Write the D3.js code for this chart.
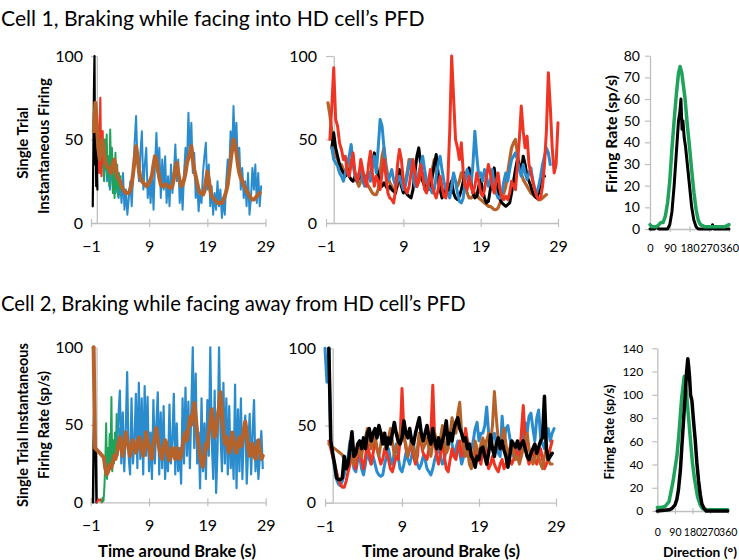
<!DOCTYPE html>
<html><head><meta charset="utf-8">
<script src="https://cdn.jsdelivr.net/npm/d3@7"></script>
<style>body{margin:0;background:#fff}svg{display:block}</style>
</head><body>
<script>
// ---------------- DATA ----------------
const titles = ["Cell 1, Braking while facing into HD cell\u2019s PFD", "Cell 2, Braking while facing away from HD cell\u2019s PFD"];
const timeTicks = [-1, 9, 19, 29];
const rateTicks = [0, 50, 100];
const dirTicks = [0, 90, 180, 270, 360];
const dirRateTicks1 = [0, 10, 20, 30, 40, 50, 60, 70, 80];
const dirRateTicks2 = [0, 20, 40, 60, 80, 100, 120, 140];

// time series: values sampled every `step` seconds from `start`
const c1Black = {start: -0.7, step: 0.1, v: [10, 40, 78, 100, 35, 58, 22, 40, 20]};
const c1Red = {start: 0.1, step: 0.1, v: [45, 35, 55, 30, 50, 75, 45, 28, 40, 55, 38]};
const c1Green = {start: 0.5, step: 0.15, v: [45, 30, 48, 35, 42, 25, 50, 32, 53, 28, 40, 22, 56, 30, 45, 18, 38, 15, 42, 20, 35, 16, 30, 22, 28]};
const c1Blue = {start: 1.0, step: 0.25, v: [40, 30, 45, 25, 35, 20, 38, 22, 30, 18, 28, 15, 25,
  12, 30, 8, 20, 5, 15, 25, 10,
  30, 48, 64, 35, 25, 42, 55, 20, 35, 45, 15, 25, 12, 30, 8, 35, 54, 30, 45, 15, 38, 20, 40, 12, 28, 10, 35, 18, 30, 47, 25, 38, 12, 25, 8, 30, 45, 35, 66, 40, 60, 30, 42, 15, 25, 7, 18, 12, 30, 40, 48, 20, 35, 10, 22, 5, 18, 8, 25, 10, 20, 3, 15, 5, 25, 38, 30, 55, 40, 70, 45, 60, 35, 45, 20, 33, 15, 25, 10, 30, 5, 15, 33, 20, 35, 12, 30, 10, 22]};
const c1Brown = {start: -0.5, step: 0.25, v: [55, 72, 60, 45, 38, 48, 50, 42, 36, 34, 33, 31, 30, 36, 38, 33, 28, 26, 25, 22, 20, 19, 18, 18, 18, 20, 23, 30, 38, 46, 40, 32, 27, 25, 24, 23, 22, 23, 24, 26, 29, 35, 40, 38, 32, 27, 23, 22, 22, 23, 23, 22, 21, 21, 22, 27, 33, 36, 30, 25, 22, 23, 26, 30, 36, 39, 42, 46, 38, 32, 28, 24, 20, 18, 18, 17, 19, 25, 31, 26, 20, 16, 15, 14, 13, 12, 12, 12, 12, 14, 16, 19, 23, 30, 37, 44, 50, 47, 42, 35, 30, 27, 25, 23, 21, 19, 18, 16, 15, 14, 14, 15, 16, 17, 18]};

const c1bRed = {start: -0.5, step: 0.25, v: [50, 70, 93, 62, 58, 48, 44, 38, 40, 30, 28, 35, 42, 30, 25, 28, 38, 32, 25, 22, 35, 43, 30, 22, 28, 25, 20, 30, 38, 28, 18, 15, 14, 12, 20, 35, 44, 38, 25, 20, 18, 22, 30, 38, 30, 22, 25, 35, 28, 20, 18, 25, 32, 22, 18, 15, 20, 28, 22, 16, 15, 25, 55, 100, 75, 50, 45, 38, 48, 30, 22, 20, 28, 22, 18, 22, 30, 25, 18, 16, 20, 28, 35, 30, 22, 18, 25, 30, 20, 15, 14, 16, 14, 18, 25, 22, 20, 35, 50, 70, 55, 45, 52, 35, 30, 25, 20, 16, 14, 15, 22, 35, 55, 90, 70, 45, 30, 35, 60]};
const c1bBlack = {start: -0.25, step: 0.25, v: [45, 54, 45, 40, 35, 32, 30, 28, 32, 28, 26, 25, 28, 25, 27, 30, 28, 26, 28, 30, 27, 35, 42, 35, 28, 25, 22, 24, 22, 20, 22, 20, 19, 18, 25, 32, 22, 18, 20, 17, 16, 15, 20, 30, 40, 45, 35, 25, 22, 20, 22, 20, 28, 35, 41, 30, 20, 15, 18, 20, 18, 22, 25, 18, 15, 14, 16, 20, 25, 30, 28, 33, 25, 18, 15, 16, 22, 26, 20, 15, 12, 13, 20, 28, 33, 25, 18, 14, 12, 11, 10, 11, 12, 18, 25, 32, 38, 35, 30, 40, 35, 28, 25, 22, 18, 16, 15, 18, 25, 30, 28]};
const c1bBrown = {start: -0.75, step: 0.25, v: [72, 65, 55, 45, 40, 38, 35, 35, 32, 30, 30, 32, 38, 36, 30, 25, 22, 25, 30, 28, 24, 22, 20, 18, 17, 17, 20, 30, 40, 45, 35, 28, 24, 22, 20, 20, 22, 25, 24, 22, 25, 30, 38, 35, 28, 24, 22, 25, 28, 30, 26, 22, 20, 24, 32, 38, 30, 24, 20, 19, 18, 18, 20, 22, 25, 28, 25, 22, 25, 30, 27, 22, 18, 15, 15, 16, 18, 17, 15, 14, 13, 12, 11, 10, 10, 9, 8, 8, 9, 12, 15, 18, 22, 30, 38, 45, 48, 50, 42, 35, 30, 26, 24, 22, 20, 18, 17, 16, 15, 14, 14, 15, 16, 17]};
const c1bBlue = {start: -0.25, step: 0.25, v: [45, 38, 36, 34, 30, 28, 25, 30, 35, 40, 47, 35, 28, 25, 30, 32, 25, 22, 28, 30, 25, 35, 40, 30, 45, 62, 58, 45, 30, 25, 28, 32, 26, 22, 25, 28, 24, 20, 22, 28, 35, 38, 30, 22, 25, 30, 35, 40, 32, 25, 22, 20, 18, 20, 28, 35, 40, 32, 25, 20, 18, 15, 22, 30, 25, 18, 13, 12, 15, 25, 32, 28, 22, 35, 55, 40, 28, 30, 25, 32, 28, 22, 25, 32, 22, 18, 15, 15, 18, 25, 30, 25, 32, 38, 40, 42, 38, 32, 28, 35, 30, 26, 30, 33, 25, 20, 18, 22, 28, 35, 40, 45, 42, 35]};

const d1Deg = [0, 10, 20, 30, 40, 50, 60, 70, 80, 90, 100, 110, 120, 130, 137, 145, 150, 160, 170, 180, 190, 200, 210, 220, 230, 250, 300, 340, 360];
const d1Green = [2, 1, 1, 1, 2, 3, 3, 6, 12, 22, 37, 50, 62, 72, 75, 72, 68, 60, 48, 38, 27, 17, 9, 4, 2, 1, 1, 1, 2];
const d1bDeg = [0, 20, 30, 40, 60, 80, 90, 100, 110, 120, 130, 136, 141, 146, 150, 156, 162, 170, 180, 190, 200, 210, 220, 280, 285, 290, 300, 360];
const d1Black = [0, 0, 1, 0, 0, 0, 2, 8, 20, 35, 50, 54, 60, 46, 50, 42, 38, 30, 20, 10, 4, 1, 0, 0, 2, 0, 0, 0];

const c2Black = {start: -0.6, step: 0.1, v: [0, 35, 58, 28, 36, 30, 0]};
const c2Red = {start: 0.1, step: 0.2, v: [0, 2, 1, 2, 0, 1]};
const c2Green = {start: 0.9, step: 0.15, v: [0, 3, 1, 10, 25, 51, 15, 35, 20, 44, 25, 68, 20, 40, 25, 45, 30, 57, 30, 42, 35, 48]};
const c2Blue = {start: 3.5, step: 0.25, v: [30, 55, 72, 25, 58, 20, 45, 84, 30, 18, 67, 25, 40, 70, 22, 77, 28, 67, 18, 75, 30, 68, 20, 45, 15, 66, 25, 50, 71, 18, 58, 22, 62, 15, 35, 20, 63, 25, 40, 70, 18, 51, 20, 35, 12, 67, 25, 74, 30, 65, 22, 60, 100, 35, 83, 25, 45, 9, 67, 20, 51, 15, 66, 30, 100, 40, 15, 72, 6, 35, 100, 45, 20, 77, 25, 67, 18, 62, 22, 40, 15, 76, 9, 60, 20, 67, 15, 45, 56, 12, 35, 57, 18, 45, 66, 20, 40, 15, 30, 46, 22]};
const c2Brown = {start: -0.5, step: 0.25, v: [100, 35, 34, 33, 32, 31, 30, 29, 22, 18, 20, 24, 22, 26, 30, 28, 32, 38, 42, 35, 30, 38, 45, 40, 35, 30, 35, 40, 38, 32, 35, 42, 40, 35, 30, 36, 45, 40, 35, 30, 28, 38, 42, 48, 40, 35, 30, 28, 35, 40, 38, 30, 27, 32, 35, 30, 28, 35, 32, 28, 30, 36, 42, 45, 40, 48, 55, 50, 58, 64, 55, 45, 38, 30, 25, 23, 30, 38, 35, 45, 52, 60, 50, 42, 45, 55, 62, 71, 58, 45, 38, 42, 35, 32, 38, 45, 40, 34, 32, 38, 42, 36, 40, 47, 52, 45, 35, 30, 33, 38, 30, 28, 35, 40, 33, 28, 30]};

const c2bBlue = {start: -1.0, step: 0.25, v: [100, 78, 100, 38, 30, 22, 15, 12, 11, 14, 18, 25, 30, 40, 35, 22, 20, 28, 30, 22, 18, 25, 35, 28, 25, 30, 25, 20, 18, 17, 18, 25, 30, 35, 28, 25, 32, 38, 30, 22, 20, 25, 32, 28, 25, 30, 38, 30, 25, 22, 25, 30, 28, 22, 20, 18, 22, 28, 32, 35, 30, 25, 28, 35, 40, 45, 38, 30, 35, 40, 32, 25, 30, 45, 38, 30, 35, 40, 48, 52, 40, 45, 45, 50, 62, 45, 35, 42, 45, 38, 32, 30, 56, 40, 48, 50, 42, 35, 30, 38, 35, 30, 35, 45, 52, 45, 56, 58, 48, 40, 55, 60, 42, 38, 35, 45, 48, 40, 45, 48]};
const c2bRed = {start: -0.5, step: 0.25, v: [40, 35, 30, 25, 20, 15, 12, 10, 10, 14, 20, 25, 30, 25, 22, 30, 35, 28, 22, 30, 38, 32, 25, 32, 40, 35, 30, 25, 28, 35, 32, 28, 22, 20, 25, 30, 28, 40, 74, 45, 35, 30, 35, 40, 30, 25, 30, 45, 38, 32, 30, 28, 35, 45, 76, 40, 30, 25, 32, 40, 30, 22, 20, 28, 35, 30, 28, 35, 40, 30, 35, 48, 40, 35, 28, 25, 30, 35, 28, 25, 35, 40, 28, 22, 25, 30, 25, 22, 20, 25, 28, 22, 25, 30, 28, 25, 28, 35, 30, 28, 45, 63, 40, 30, 25, 30, 35, 28, 25, 30, 35, 28, 22, 25, 30, 35, 40]};
const c2bBrown = {start: -0.5, step: 0.25, v: [38, 37, 36, 35, 34, 33, 32, 31, 28, 22, 25, 30, 28, 25, 30, 35, 32, 30, 38, 42, 48, 40, 35, 40, 45, 35, 30, 38, 45, 40, 35, 42, 48, 40, 30, 35, 40, 45, 50, 42, 38, 30, 35, 42, 35, 28, 35, 45, 40, 35, 38, 42, 35, 30, 38, 45, 40, 35, 42, 50, 40, 32, 35, 45, 55, 50, 45, 58, 65, 45, 35, 30, 35, 25, 22, 30, 40, 35, 30, 38, 42, 35, 40, 45, 38, 50, 72, 55, 40, 35, 42, 48, 38, 30, 35, 40, 32, 28, 30, 25, 30, 35, 40, 45, 35, 30, 25, 28, 35, 30, 25, 22, 30, 35, 28, 25, 25]};
const c2bBlack = {start: -0.5, step: 0.25, v: [100, 40, 32, 25, 16, 15, 15, 16, 30, 22, 25, 35, 46, 30, 32, 38, 40, 35, 42, 35, 45, 48, 40, 45, 48, 42, 50, 45, 38, 45, 35, 42, 38, 45, 52, 45, 40, 38, 42, 53, 45, 42, 48, 40, 38, 45, 50, 55, 45, 40, 45, 50, 42, 38, 48, 40, 35, 42, 35, 40, 45, 53, 38, 45, 40, 48, 52, 55, 48, 45, 40, 42, 35, 38, 30, 28, 23, 30, 28, 35, 36, 30, 25, 32, 44, 35, 30, 38, 42, 35, 40, 34, 30, 23, 30, 40, 38, 36, 40, 35, 38, 40, 35, 30, 28, 32, 35, 38, 32, 36, 40, 42, 69, 35, 28, 30, 32]};

const d2gDeg = [0, 20, 40, 60, 80, 100, 110, 125, 138, 150, 160, 170, 180, 190, 206, 220, 232, 260, 300, 360];
const d2Green = [3, 3, 4, 8, 25, 47, 65, 98, 116, 100, 80, 60, 41, 28, 12, 5, 2, 1, 1, 1];
const d2bDeg = [0, 60, 74, 90, 100, 108, 118, 125, 135, 142, 150, 156, 160, 165, 170, 177, 185, 194, 202, 211, 220, 228, 240, 250, 360];
const d2Black = [0, 1, 2, 5, 10, 18, 35, 54, 80, 98, 120, 131, 125, 115, 100, 95, 78, 61, 42, 26, 14, 6, 2, 0, 0];

// ---------------- DRAWING ----------------
const W = 739, H = 560;
const FONT = "Lato, 'Open Sans', sans-serif";
const COL = {blue: "#2b8ccd", red: "#ee3524", green: "#1fa35b", brown: "#b5622b", black: "#000000"};
const AXIS = "#bfbfbf";

const svg = d3.select("body").append("svg").attr("width", W).attr("height", H)
  .style("font-family", FONT);

function ts(s) { return s.v.map((v, i) => [s.start + i * s.step, v]); }
function pairs(xs, ys) { return xs.map((x, i) => [x, ys[i]]); }

function fitText(sel, width) {
  const fs = parseFloat(sel.attr("font-size"));
  const w = sel.node().getComputedTextLength();
  sel.attr("font-size", (fs * width / w).toFixed(2));
}

function panel(cfg) {
  const x = d3.scaleLinear().domain(cfg.xDomain).range(cfg.xRange);
  const y = d3.scaleLinear().domain(cfg.yDomain).range(cfg.yRange);
  const g = svg.append("g");
  const xa = g.append("g").attr("transform", `translate(0,${y(0)})`)
    .call(d3.axisBottom(x).tickValues(cfg.xTicks).tickSizeInner(cfg.xTick).tickSizeOuter(0).tickPadding(cfg.xPad));
  xa.selectAll(".tick line").attr("y1", -cfg.xTick).attr("stroke", AXIS).attr("stroke-width", 1.2);
  xa.select(".domain").attr("stroke", AXIS).attr("stroke-width", 1.3);
  xa.selectAll("text").attr("font-size", cfg.xfs || cfg.fs).attr("fill", "#000").attr("font-family", FONT);
  const ya = g.append("g").attr("transform", `translate(${x(cfg.yAxisAt)},0)`)
    .call(d3.axisLeft(y).tickValues(cfg.yTicks).tickSizeInner(cfg.yTick).tickSizeOuter(0).tickPadding(cfg.yPad));
  ya.selectAll(".tick line").attr("stroke", AXIS).attr("stroke-width", 1.2);
  ya.select(".domain").attr("stroke", AXIS).attr("stroke-width", 1.3);
  ya.selectAll("text").attr("font-size", cfg.fs).attr("fill", "#000").attr("font-family", FONT);
  const line = d3.line().x(d => x(d[0])).y(d => y(d[1])).curve(d3.curveLinear);
  cfg.series.forEach(s => {
    g.append("path").datum(s.data).attr("d", line).attr("fill", "none")
      .attr("stroke", s.color).attr("stroke-width", s.w)
      .attr("stroke-linejoin", "round").attr("stroke-linecap", "round");
  });
  return {x, y};
}

// Titles
const t1 = svg.append("text").attr("x", 1).attr("y", 26).attr("font-size", 21).attr("fill", "#000").text(titles[0]);
fitText(t1, 424);
const t2 = svg.append("text").attr("x", 1).attr("y", 311).attr("font-size", 21).attr("fill", "#000").text(titles[1]);
fitText(t2, 465);

// Panel 1
panel({xDomain: [-1, 29], xRange: [91, 265.5], yDomain: [0, 100], yRange: [223, 56],
  xTicks: timeTicks, yTicks: rateTicks, xTick: 4, xPad: 14, yTick: 5.8, yPad: 8, yAxisAt: 0, fs: 16,
  series: [
    {data: ts(c1Blue), color: COL.blue, w: 2},
    {data: ts(c1Green), color: COL.green, w: 2},
    {data: ts(c1Red), color: COL.red, w: 2.2},
    {data: ts(c1Black), color: COL.black, w: 2.2},
    {data: ts(c1Brown), color: COL.brown, w: 4}
  ]});
// Panel 2
panel({xDomain: [-1, 29], xRange: [326, 558], yDomain: [0, 100], yRange: [223, 56],
  xTicks: timeTicks, yTicks: rateTicks, xTick: 4, xPad: 14, yTick: 7.7, yPad: 9, yAxisAt: 0, fs: 16,
  series: [
    {data: ts(c1bBrown), color: COL.brown, w: 3.2},
    {data: ts(c1bBlack), color: COL.black, w: 3},
    {data: ts(c1bBlue), color: COL.blue, w: 3},
    {data: ts(c1bRed), color: COL.red, w: 3}
  ]});
// Panel 3
panel({xDomain: [0, 360], xRange: [650, 729], yDomain: [0, 80], yRange: [229, 55.7],
  xTicks: dirTicks, yTicks: dirRateTicks1, xTick: 3, xPad: 12, yTick: 5, yPad: 5, yAxisAt: 0, fs: 14, xfs: 11,
  series: [
    {data: pairs(d1bDeg, d1Black), color: COL.black, w: 3},
    {data: pairs(d1Deg, d1Green), color: COL.green, w: 3.5}
  ]});
// Panel 4
panel({xDomain: [-1, 29], xRange: [90.7, 265.7], yDomain: [0, 100], yRange: [502.3, 347.3],
  xTicks: timeTicks, yTicks: rateTicks, xTick: 4, xPad: 13.5, yTick: 5.8, yPad: 7.6, yAxisAt: 0, fs: 16,
  series: [
    {data: ts(c2Black), color: COL.black, w: 2.5},
    {data: ts(c2Red), color: COL.red, w: 2},
    {data: ts(c2Green), color: COL.green, w: 2},
    {data: ts(c2Blue), color: COL.blue, w: 2.2},
    {data: ts(c2Brown), color: COL.brown, w: 4}
  ]});
// Panel 5
panel({xDomain: [-1, 29], xRange: [325, 556], yDomain: [0, 100], yRange: [502.7, 348.3],
  xTicks: timeTicks, yTicks: rateTicks, xTick: 4, xPad: 13.5, yTick: 7.7, yPad: 9, yAxisAt: 0, fs: 16,
  series: [
    {data: ts(c2bBlue), color: COL.blue, w: 3},
    {data: ts(c2bRed), color: COL.red, w: 3},
    {data: ts(c2bBrown), color: COL.brown, w: 3},
    {data: ts(c2bBlack), color: COL.black, w: 3.5}
  ]});
// Panel 6
panel({xDomain: [0, 360], xRange: [657.3, 727.7], yDomain: [0, 140], yRange: [511, 348.3],
  xTicks: dirTicks, yTicks: dirRateTicks2, xTick: 3, xPad: 14.5, yTick: 5, yPad: 9, yAxisAt: 0, fs: 12, xfs: 10.5,
  series: [
    {data: pairs(d2gDeg, d2Green), color: COL.green, w: 3.5},
    {data: pairs(d2bDeg, d2Black), color: COL.black, w: 3.5}
  ]});

// Axis titles
function vlabel(x, y, txt, fs, width) {
  const t = svg.append("text").attr("transform", `translate(${x},${y}) rotate(-90)`)
    .attr("text-anchor", "middle").attr("dominant-baseline", "central")
    .attr("font-size", fs).attr("font-weight", "bold").attr("fill", "#000").text(txt);
  if (width) fitText(t, width);
  return t;
}
function hlabel(x, y, txt, fs, width) {
  const t = svg.append("text").attr("x", x).attr("y", y).attr("text-anchor", "middle")
    .attr("font-size", fs).attr("font-weight", "bold").attr("fill", "#000").text(txt);
  if (width) fitText(t, width);
  return t;
}
vlabel(22, 143, "Single Trial", 15);
vlabel(43, 146, "Instantaneous Firing", 15);
vlabel(22, 425, "Single Trial Instantaneous", 14.5);
vlabel(43, 425, "Firing Rate (sp/s)", 14.5);
vlabel(610, 134, "Firing Rate (sp/s)", 13, 118);
vlabel(609, 432, "Firing Rate (sp/s)", 12, 95);
hlabel(177, 557, "Time around Brake (s)", 16, 158);
hlabel(441, 557, "Time around Brake (s)", 16, 158);
hlabel(700, 557, "Direction (\u00b0)", 14, 74);
</script>
</body></html>
